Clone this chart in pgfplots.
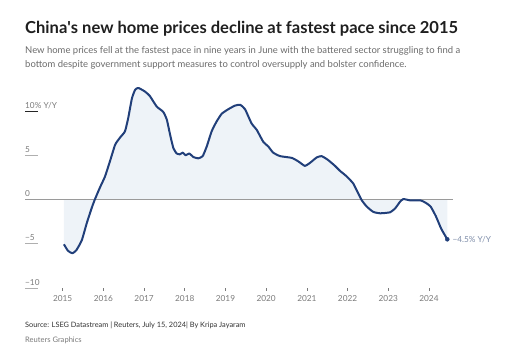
\documentclass[border=0pt]{standalone}
\usepackage{pgfplots}
\pgfplotsset{compat=1.18}
\usepackage{pgfplotstable}
\usepackage{fontspec}
\setmainfont{Lato}
\definecolor{navy}{HTML}{213F7A}
\definecolor{fillc}{HTML}{EEF3F8}
\definecolor{zeroc}{HTML}{9A9A9A}
\definecolor{tickc}{HTML}{7A7A7A}
\definecolor{subc}{HTML}{6B6B6B}
\definecolor{annc}{HTML}{7D8CA8}
\tikzset{ylabstyle/.style={anchor=base west, inner sep=0, font=\fontsize{8.3}{10}\selectfont, text=tickc, yshift=2.8bp}}
\pgfplotstableread{
x y
2015.03 -5.06
2015.13 -5.8
2015.24 -6.08
2015.34 -5.7
2015.47 -4.6
2015.59 -2.7
2015.71 -1.0
2015.79 0
2015.92 1.4
2016.04 2.6
2016.16 4.3
2016.29 6.2
2016.41 7.0
2016.53 7.7
2016.61 9.2
2016.70 11.4
2016.78 12.4
2016.86 12.6
2017.02 12.2
2017.14 11.7
2017.31 10.5
2017.47 9.9
2017.56 9.0
2017.64 7.3
2017.72 5.8
2017.80 5.2
2017.88 5.1
2017.95 5.3
2018.02 5.0
2018.11 5.2
2018.21 4.8
2018.33 4.65
2018.44 4.9
2018.54 6.0
2018.66 7.7
2018.78 8.8
2018.91 9.7
2019.07 10.2
2019.23 10.6
2019.36 10.7
2019.48 10.2
2019.64 8.6
2019.77 7.85
2019.93 6.5
2020.05 6.0
2020.17 5.3
2020.34 4.9
2020.63 4.7
2020.79 4.3
2020.95 3.8
2021.08 4.15
2021.24 4.75
2021.36 4.9
2021.51 4.5
2021.69 3.8
2021.81 3.25
2021.98 2.6
2022.14 1.8
2022.26 0.7
2022.35 -0.1
2022.47 -0.8
2022.63 -1.4
2022.80 -1.56
2023.04 -1.45
2023.17 -1.0
2023.29 -0.25
2023.37 0.05
2023.54 -0.1
2023.79 -0.1
2023.91 -0.35
2024.04 -0.8
2024.17 -1.9
2024.30 -3.3
2024.45 -4.5
}\datatable
\begin{document}
\begin{tikzpicture}
\useasboundingbox (0bp,0bp) rectangle (532bp,358bp);
\node[anchor=base west, inner sep=0, font=\fontsize{16.6}{20}\selectfont\bfseries, text=black!88] at (25bp,324.7bp) {China\textquotesingle s new home prices decline at fastest pace since 2015};
\node[anchor=base west, inner sep=0, font=\fontsize{9.5}{12}\selectfont, text=subc] at (25bp,304bp) {New home prices fell at the fastest pace in nine years in June with the battered sector struggling to find a};
\node[anchor=base west, inner sep=0, font=\fontsize{9.5}{12}\selectfont, text=subc] at (25bp,290.5bp) {bottom despite government support measures to control oversupply and bolster confidence.};
\node[anchor=base west, inner sep=0, font=\fontsize{7.4}{10}\selectfont, text=black!80] at (25bp,31bp) {Source: LSEG Datastream | Reuters, July 15, 2024| By Kripa Jayaram};
\node[anchor=base west, inner sep=0, font=\fontsize{7.6}{10}\selectfont, text=tickc] at (25bp,16bp) {Reuters Graphics};
\begin{axis}[at={(25bp,70bp)}, anchor=south west, scale only axis,
  width=428bp, height=208bp,
  xmin=2014.074, xmax=2024.59, ymin=-10, ymax=13.5,
  clip=false,
  axis y line=none, axis x line*=bottom,
  x axis line style={draw=none},
  xtick={2015,2016,2017,2018,2019,2020,2021,2022,2023,2024},
  xticklabels={2015,2016,2017,2018,2019,2020,2021,2022,2023,2024},
  tick align=outside, major tick length=3bp,
  xtick style={draw=tickc, line width=0.7bp},
  xticklabel style={font=\fontsize{8.3}{10}\selectfont, text=tickc, yshift=-1bp},
  ytick=\empty]
\addplot[fill=fillc, draw=none] table[x=x,y=y]{\datatable} \closedcycle;
\draw[zeroc, line width=1.3bp] (axis cs:2014.074,0) -- (axis cs:2024.59,0);
\draw[tickc!60, line width=0.8bp] (axis cs:2014.074,5) -- ++(13bp,0pt);
\draw[tickc!60, line width=0.8bp] (axis cs:2014.074,-5) -- ++(13bp,0pt);
\draw[tickc!60, line width=0.8bp] (axis cs:2014.074,-10) -- ++(13bp,0pt);
\draw[black!85, line width=0.8bp] (axis cs:2014.074,10) -- ++(13bp,0pt);
\node[ylabstyle] at (axis cs:2014.074,10) {10\% Y/Y};
\node[ylabstyle] at (axis cs:2014.074,5) {5};
\node[ylabstyle] at (axis cs:2014.074,0) {0};
\node[ylabstyle] at (axis cs:2014.074,-5) {\char"2212 5};
\node[ylabstyle] at (axis cs:2014.074,-10) {\char"2212 10};
\addplot[navy, line width=2bp, smooth, tension=0.3, line join=round] table[x=x,y=y]{\datatable};
\addplot[only marks, mark=*, mark size=2bp, navy] coordinates {(2024.45,-4.5)};
\node[anchor=west, inner sep=0, xshift=5bp, font=\fontsize{8.3}{10}\selectfont, text=annc] at (axis cs:2024.45,-4.5) {\char"2212 4.5\% Y/Y};
\end{axis}
\end{tikzpicture}
\end{document}
